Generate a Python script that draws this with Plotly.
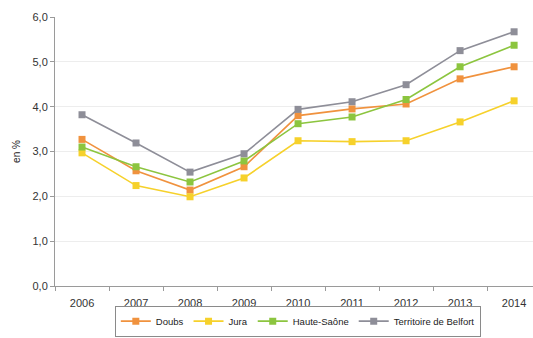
import plotly.graph_objects as go

years = ["2006", "2007", "2008", "2009", "2010", "2011", "2012", "2013", "2014"]
doubs = [3.27, 2.57, 2.14, 2.66, 3.80, 3.95, 4.06, 4.62, 4.89]
jura = [2.97, 2.24, 1.99, 2.41, 3.24, 3.22, 3.24, 3.66, 4.13]
haute_saone = [3.10, 2.66, 2.32, 2.79, 3.62, 3.77, 4.16, 4.89, 5.37]
belfort = [3.82, 3.19, 2.54, 2.95, 3.94, 4.11, 4.49, 5.25, 5.67]

series = [
    ("Doubs", doubs, "#F0923E"),
    ("Jura", jura, "#F6D12B"),
    ("Haute-Saône", haute_saone, "#8CC53F"),
    ("Territoire de Belfort", belfort, "#8E8E98"),
]

fig = go.Figure()
for name, vals, col in series:
    fig.add_trace(go.Scatter(
        x=years, y=vals, name=name, mode="lines+markers",
        line=dict(color=col, width=1.6),
        marker=dict(symbol="square", size=7, color=col),
    ))

font = "Liberation Sans, Arial, sans-serif"
fig.update_layout(
    width=533, height=338,
    margin=dict(l=55, r=0, t=17, b=52, autoexpand=False),
    paper_bgcolor="white", plot_bgcolor="white",
    separators=", ",
    font=dict(family=font, size=11, color="#333333"),
    showlegend=True,
    legend=dict(
        orientation="h", x=0.508, xanchor="center",
        yref="container", y=0.004, yanchor="bottom",
        bordercolor="#8A8A8A", borderwidth=1, bgcolor="white",
        font=dict(size=9.5, color="#222222"), itemwidth=30,
        tracegroupgap=0,
    ),
    xaxis=dict(
        type="category", range=[-0.5, 8.35],
        showline=True, linecolor="#9A9A9A", linewidth=1,
        ticks="outside", tickson="boundaries", ticklen=4, tickcolor="#9A9A9A",
        ticklabelstandoff=7,
        showgrid=False, tickfont=dict(size=11, color="#333333"),
    ),
    yaxis=dict(
        range=[0, 6], dtick=1, tickformat=".1f",
        showline=True, linecolor="#9A9A9A", linewidth=1,
        ticks="outside", ticklen=4, tickcolor="#9A9A9A",
        showgrid=True, gridcolor="#EDEDED", gridwidth=1,
        zeroline=False,
        title=dict(text="en %", font=dict(size=10, color="#222222"), standoff=10),
        tickfont=dict(size=11, color="#333333"),
    ),
)

fig.write_html("out.html")
